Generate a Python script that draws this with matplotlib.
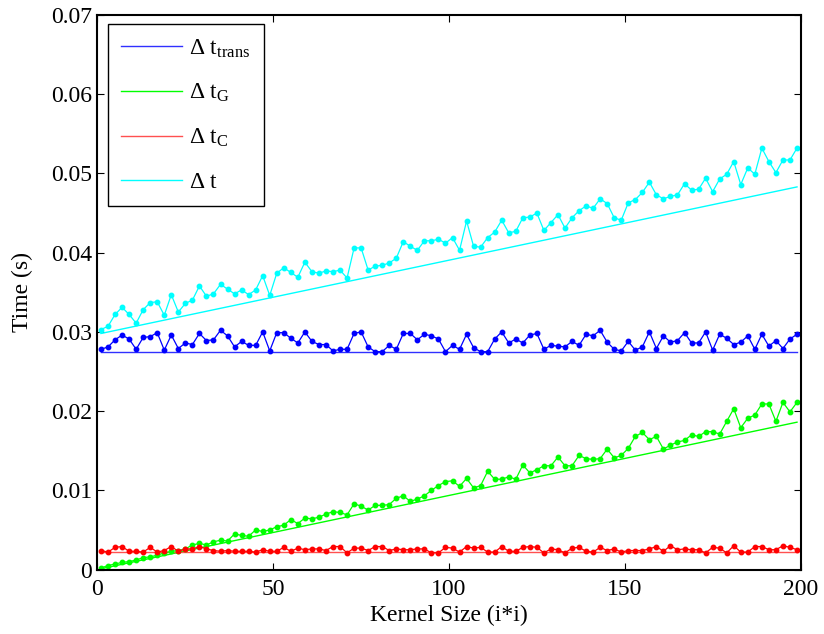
import numpy as np
import matplotlib
matplotlib.use("Agg")
import matplotlib.pyplot as plt

plt.rcParams['font.family'] = ['Liberation Serif', 'DejaVu Serif']
plt.rcParams['mathtext.fontset'] = 'custom'
plt.rcParams['mathtext.rm'] = 'Liberation Serif'
plt.rcParams['mathtext.it'] = 'Liberation Serif:italic'

# kernel sizes (odd values 1..199)
kernel_size = np.arange(1, 200, 2)

dt_total = [
    0.0303, 0.0307, 0.0322, 0.0331, 0.0322, 0.0311, 0.0328, 0.0337, 0.0338, 0.0321,
    0.0347, 0.0325, 0.0336, 0.0340, 0.0358, 0.0345, 0.0348, 0.0360, 0.0354, 0.0348,
    0.0353, 0.0347, 0.0353, 0.0371, 0.0346, 0.0374, 0.0381, 0.0375, 0.0369, 0.0388,
    0.0376, 0.0374, 0.0377, 0.0376, 0.0378,
    0.0368, 0.0406, 0.0406, 0.0378, 0.0383, 0.0384, 0.0387, 0.0393, 0.0414, 0.0408,
    0.0403, 0.0415, 0.0415, 0.0417, 0.0412, 0.0419, 0.0403, 0.0440, 0.0408, 0.0407,
    0.0419, 0.0426, 0.0441, 0.0425, 0.0427, 0.0444, 0.0445, 0.0450, 0.0428, 0.0438,
    0.0448, 0.0431, 0.0444, 0.0453, 0.0459,
    0.0456, 0.0468, 0.0462, 0.0444, 0.0441, 0.0463, 0.0467, 0.0476, 0.0489, 0.0473,
    0.0468, 0.0471, 0.0473, 0.0487, 0.0479, 0.0480, 0.0494, 0.0477, 0.0493, 0.0499,
    0.0515, 0.0486, 0.0507, 0.0499, 0.0532, 0.0515, 0.0501, 0.0517, 0.0517, 0.0532,
]

dt_trans = [
    0.0278, 0.0281, 0.0290, 0.0296, 0.0291, 0.0278, 0.0293, 0.0294, 0.0299, 0.0277,
    0.0296, 0.0279, 0.0286, 0.0284, 0.0298, 0.0289, 0.0290, 0.0302, 0.0295, 0.0281,
    0.0288, 0.0283, 0.0283, 0.0300, 0.0276, 0.0299, 0.0299, 0.0292, 0.0286, 0.0300,
    0.0288, 0.0284, 0.0284, 0.0276, 0.0278,
    0.0278, 0.0298, 0.0300, 0.0281, 0.0275, 0.0275, 0.0283, 0.0278, 0.0298, 0.0298,
    0.0290, 0.0297, 0.0295, 0.0291, 0.0275, 0.0283, 0.0278, 0.0297, 0.0280, 0.0275,
    0.0275, 0.0291, 0.0300, 0.0286, 0.0291, 0.0286, 0.0296, 0.0298, 0.0278, 0.0283,
    0.0282, 0.0281, 0.0288, 0.0283, 0.0297,
    0.0295, 0.0302, 0.0287, 0.0278, 0.0276, 0.0288, 0.0277, 0.0281, 0.0300, 0.0279,
    0.0295, 0.0287, 0.0289, 0.0299, 0.0286, 0.0286, 0.0300, 0.0277, 0.0297, 0.0292,
    0.0284, 0.0287, 0.0295, 0.0278, 0.0297, 0.0282, 0.0289, 0.0279, 0.0291, 0.0297,
]

dt_G = [
    0.0002, 0.0005, 0.0007, 0.0009, 0.0010, 0.0012, 0.0015, 0.0016, 0.0018, 0.0021,
    0.0023, 0.0024, 0.0026, 0.0031, 0.0033, 0.0031, 0.0035, 0.0037, 0.0036, 0.0045,
    0.0043, 0.0042, 0.0050, 0.0048, 0.0050, 0.0054, 0.0056, 0.0063, 0.0058, 0.0065,
    0.0064, 0.0066, 0.0070, 0.0073, 0.0072,
    0.0069, 0.0083, 0.0080, 0.0075, 0.0081, 0.0081, 0.0082, 0.0090, 0.0093, 0.0086,
    0.0089, 0.0093, 0.0100, 0.0106, 0.0111, 0.0112, 0.0105, 0.0115, 0.0103, 0.0106,
    0.0124, 0.0114, 0.0114, 0.0117, 0.0114, 0.0132, 0.0122, 0.0126, 0.0131, 0.0131,
    0.0142, 0.0131, 0.0131, 0.0144, 0.0140,
    0.0139, 0.0140, 0.0152, 0.0141, 0.0144, 0.0153, 0.0168, 0.0173, 0.0164, 0.0168,
    0.0152, 0.0157, 0.0161, 0.0163, 0.0170, 0.0168, 0.0174, 0.0174, 0.0171, 0.0187,
    0.0203, 0.0179, 0.0191, 0.0195, 0.0209, 0.0209, 0.0187, 0.0211, 0.0199, 0.0211,
]

dt_C = [
    0.0024, 0.0022, 0.0028, 0.0029, 0.0023, 0.0023, 0.0022, 0.0028, 0.0022, 0.0024,
    0.0029, 0.0023, 0.0026, 0.0026, 0.0029, 0.0026, 0.0024, 0.0023, 0.0024, 0.0023,
    0.0023, 0.0023, 0.0022, 0.0025, 0.0023, 0.0023, 0.0028, 0.0023, 0.0027, 0.0025,
    0.0026, 0.0026, 0.0024, 0.0029, 0.0029,
    0.0021, 0.0027, 0.0027, 0.0024, 0.0029, 0.0029, 0.0024, 0.0026, 0.0025, 0.0025,
    0.0026, 0.0026, 0.0021, 0.0021, 0.0028, 0.0027, 0.0022, 0.0029, 0.0027, 0.0028,
    0.0022, 0.0022, 0.0029, 0.0023, 0.0023, 0.0028, 0.0029, 0.0028, 0.0021, 0.0026,
    0.0025, 0.0021, 0.0027, 0.0028, 0.0023,
    0.0022, 0.0028, 0.0024, 0.0026, 0.0022, 0.0024, 0.0024, 0.0024, 0.0026, 0.0029,
    0.0023, 0.0030, 0.0025, 0.0026, 0.0025, 0.0025, 0.0021, 0.0028, 0.0027, 0.0021,
    0.0030, 0.0022, 0.0022, 0.0029, 0.0029, 0.0025, 0.0025, 0.0030, 0.0028, 0.0025,
]

# model lines (end points)
fit_x = [1, 199]
fit_trans = [0.0275, 0.0275]
fit_G = [0.0001, 0.0186]
fit_C = [0.0022, 0.0022]
fit_total = [0.0298, 0.0483]

labels = [r'$\Delta\ \mathrm{t}_{\mathrm{trans}}$', r'$\Delta\ \mathrm{t}_{\mathrm{G}}$',
          r'$\Delta\ \mathrm{t}_{\mathrm{C}}$', r'$\Delta\ \mathrm{t}$']
colors = ['#0000ff', '#00ff00', '#ff0000', '#00ffff']
fit_colors = ['#3030ff', '#00ff00', '#ff5050', '#00ffff']

xticks = [0, 50, 100, 150, 200]
yticks = [0, 0.01, 0.02, 0.03, 0.04, 0.05, 0.06, 0.07]
ytick_labels = ['0', '0.01', '0.02', '0.03', '0.04', '0.05', '0.06', '0.07']

fig = plt.figure(figsize=(8.24, 6.34), dpi=100)
ax = fig.add_axes([0.1183, 0.1017, 0.8532, 0.8746])

fits = [fit_trans, fit_G, fit_C, fit_total]
data = [dt_trans, dt_G, dt_C, dt_total]
for f, c, lab in zip(fits, fit_colors, labels):
    ax.plot(fit_x, f, color=c, lw=1.0, label=lab)
for d, c in zip(data, colors):
    ax.plot(kernel_size, d, color=c, lw=0.9, marker='o', ms=3.2, mec=c, mfc=c)

ax.set_xlim(0, 200)
ax.set_ylim(0, 0.07)
ax.set_xticks(xticks)
ax.set_yticks(yticks)
ax.set_yticklabels(ytick_labels)
ax.tick_params(direction='in', length=5, width=0.8, labelsize=17,
               top=True, right=True, pad=4)
ax.tick_params(axis='x', pad=7)
for s in ax.spines.values():
    s.set_linewidth(1.5)

ax.set_xlabel('Kernel Size (i*i)', fontsize=17, labelpad=3)
ax.set_ylabel('Time (s)', fontsize=17, labelpad=13)

leg = ax.legend(loc='upper left', bbox_to_anchor=(0.015, 0.983), fontsize=17,
                frameon=True, fancybox=False, edgecolor='black', framealpha=1,
                handlelength=2.6, handletextpad=0.3, borderaxespad=0,
                labelspacing=0.95, borderpad=0.55)
leg.get_frame().set_linewidth(1.0)

fig.savefig('out.png', dpi=100)
